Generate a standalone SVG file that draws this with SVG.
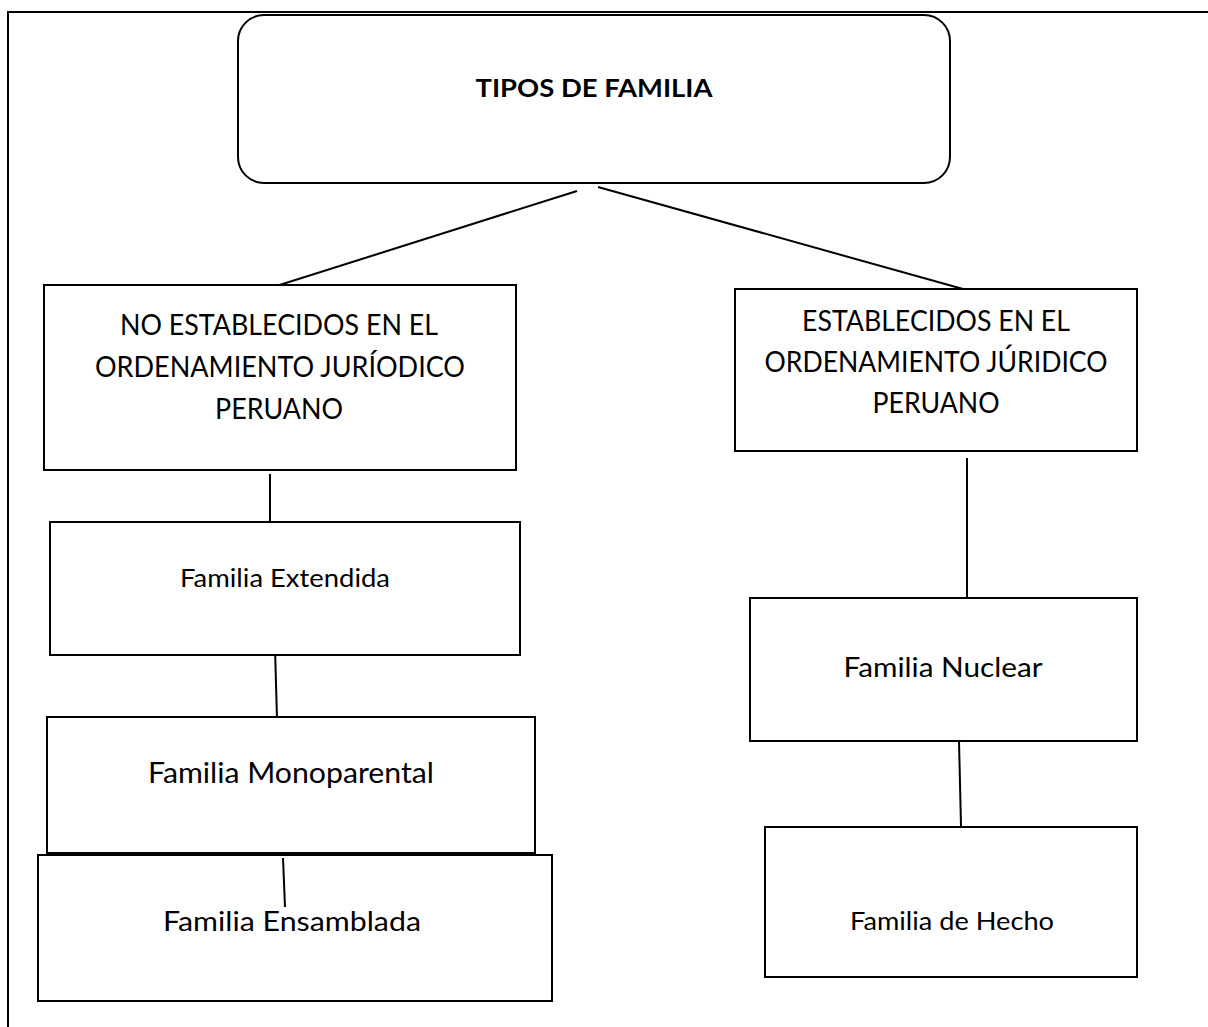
<svg xmlns="http://www.w3.org/2000/svg" width="1208" height="1027" viewBox="0 0 1208 1027">
<style>
.box{fill:#fff;stroke:#000;stroke-width:2}
.ln{stroke:#000;stroke-width:2;fill:none}
.t{font-family:Lato,"Open Sans","Liberation Sans",sans-serif;fill:#000;text-anchor:middle}
.b{font-weight:bold}
</style>
<rect x="0" y="0" width="1208" height="1027" fill="#fff"/>
<rect id="frame" x="8" y="12" width="1220" height="1040" fill="none" stroke="#000" stroke-width="2"/>
<g id="connectors">
<line class="ln" x1="577" y1="191" x2="270" y2="288"/>
<line class="ln" x1="598" y1="187" x2="963" y2="289"/>
<line class="ln" x1="270" y1="474" x2="270" y2="522"/>
<line class="ln" x1="275" y1="648" x2="277" y2="719"/>
<line class="ln" x1="967" y1="458" x2="967" y2="598"/>
<line class="ln" x1="959" y1="741" x2="961" y2="826"/>
</g>
<g id="n-tipos">
<rect class="box" x="238" y="15" width="712" height="168" rx="26" ry="26"/>
<text class="t b" x="594" y="97" font-size="24" textLength="237" lengthAdjust="spacingAndGlyphs">TIPOS DE FAMILIA</text>
</g>
<g id="n-no-establecidos">
<rect class="box" x="44" y="285" width="472" height="185"/>
<text class="t" x="279" y="335" font-size="28" textLength="318" lengthAdjust="spacingAndGlyphs">NO ESTABLECIDOS EN EL</text>
<text class="t" x="280" y="377" font-size="28" textLength="370" lengthAdjust="spacingAndGlyphs">ORDENAMIENTO JURÍODICO</text>
<text class="t" x="279" y="419" font-size="28" textLength="128" lengthAdjust="spacingAndGlyphs">PERUANO</text>
</g>
<g id="n-establecidos">
<rect class="box" x="735" y="289" width="402" height="162"/>
<text class="t" x="936" y="331" font-size="28" textLength="268" lengthAdjust="spacingAndGlyphs">ESTABLECIDOS EN EL</text>
<text class="t" x="936" y="372" font-size="28" textLength="343" lengthAdjust="spacingAndGlyphs">ORDENAMIENTO JÚRIDICO</text>
<text class="t" x="936" y="413" font-size="28" textLength="127" lengthAdjust="spacingAndGlyphs">PERUANO</text>
</g>
<g id="n-extendida">
<rect class="box" x="50" y="522" width="470" height="133"/>
<text class="t" x="285" y="587" font-size="25" textLength="210" lengthAdjust="spacingAndGlyphs">Familia Extendida</text>
</g>
<g id="n-monoparental">
<rect class="box" x="47" y="717" width="488" height="136"/>
<text class="t" x="291" y="783" font-size="28" textLength="286" lengthAdjust="spacingAndGlyphs">Familia Monoparental</text>
</g>
<g id="n-ensamblada">
<rect class="box" x="38" y="855" width="514" height="146"/>
<text class="t" x="292" y="931" font-size="27" textLength="258" lengthAdjust="spacingAndGlyphs">Familia Ensamblada</text>
<line class="ln" x1="283" y1="858" x2="285" y2="907"/>
</g>
<g id="n-nuclear">
<rect class="box" x="750" y="598" width="387" height="143"/>
<text class="t" x="943" y="677" font-size="27" textLength="199" lengthAdjust="spacingAndGlyphs">Familia Nuclear</text>
</g>
<g id="n-hecho">
<rect class="box" x="765" y="827" width="372" height="150"/>
<text class="t" x="952" y="930" font-size="25" textLength="204" lengthAdjust="spacingAndGlyphs">Familia de Hecho</text>
</g>
</svg>
